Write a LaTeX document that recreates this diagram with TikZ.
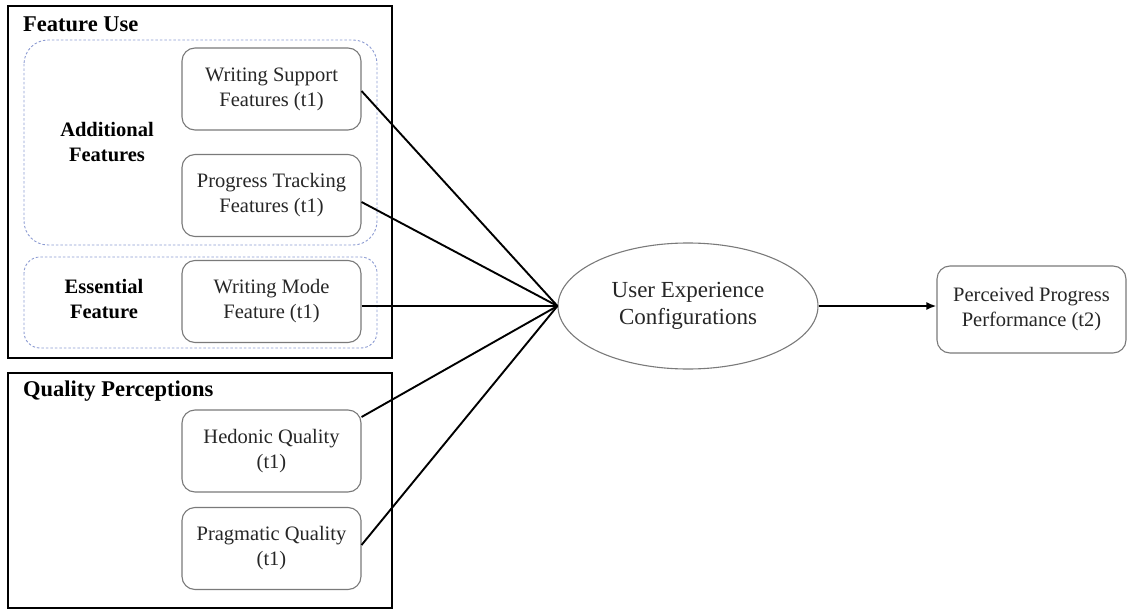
\documentclass[tikz,border=0pt]{standalone}
\usepackage{fontspec}
\setmainfont{LiberationSerif}[Extension=.ttf, UprightFont=*-Regular, BoldFont=*-Bold, ItalicFont=*-Italic, BoldItalicFont=*-BoldItalic]
\usetikzlibrary{shapes.geometric,arrows.meta}
\definecolor{boxgray}{HTML}{7A7A7A}
\definecolor{dashblue}{HTML}{8C9BD2}
\definecolor{txt}{HTML}{262626}
\tikzset{
  varbox/.style={draw=boxgray, line width=1.1pt, rounded corners=13pt, minimum width=179pt, minimum height=82pt, align=center, text=txt, font=\fontsize{20.5}{25}\selectfont, inner sep=0pt},
  groupbox/.style={draw=black, line width=2pt},
  dashbox/.style={draw=dashblue, line width=0.9pt, dash pattern=on 2.5pt off 2pt},
  grouptitle/.style={anchor=base west, font=\bfseries\fontsize{22.5}{27}\selectfont, inner sep=0pt},
  sublabel/.style={align=center, font=\bfseries\fontsize{20.5}{25}\selectfont, inner sep=0pt},
  link/.style={draw=black, line width=1.9pt},
}
\begin{document}
\begin{tikzpicture}[x=1pt,y=-1pt]
\useasboundingbox (0,0) rectangle (1128,610);
% group frames
\draw[groupbox] (8,6) rectangle (392,358);
\draw[groupbox] (8,373) rectangle (392,608);
\draw[dashbox, rounded corners=24pt] (24,40) rectangle (377,245);
\draw[dashbox, rounded corners=16pt] (24,257) rectangle (377,348);
% titles
\node[grouptitle] (tfu) at (23,32) {Feature Use};
\node[grouptitle] (tqp) at (23,396) {Quality Perceptions};
\node[sublabel] (laf) at (107,142) {Additional\\Features};
\node[sublabel] (lef) at (104,299) {Essential\\Feature};
% variables
\node[varbox] (ws) at (271.5,89) {Writing Support\\Features (t1)};
\node[varbox] (pt) at (271.5,195.5) {Progress Tracking\\Features (t1)};
\node[varbox] (wm) at (271.5,301.5) {Writing Mode\\Feature (t1)};
\node[varbox] (hq) at (271.5,451) {Hedonic Quality\\(t1)};
\node[varbox] (pq) at (271.5,548.5) {Pragmatic Quality\\(t1)};
\node[ellipse, draw=boxgray, line width=1.1pt, minimum width=260pt, minimum height=126pt, align=center, text=txt, font=\fontsize{23}{27}\selectfont, inner sep=0pt] (ue) at (688,306) {User Experience\\Configurations};
\node[varbox, minimum width=189pt, minimum height=87pt] (pp) at (1031.5,309.5) {Perceived Progress\\Performance (t2)};
% connectors
\draw[link] ([yshift=-2pt]ws.east) -- (ue.west);
\draw[link] ([yshift=-6.5pt]pt.east) -- (ue.west);
\draw[link] ([yshift=-4.5pt]wm.east) -- (ue.west);
\draw[link] ([yshift=34pt]hq.east) -- (ue.west);
\draw[link] ([yshift=3.5pt]pq.east) -- (ue.west);
\draw[link, -{Latex[length=10pt,width=8pt]}] (ue.east) -- (ue.east -| pp.west);
\end{tikzpicture}
\end{document}
